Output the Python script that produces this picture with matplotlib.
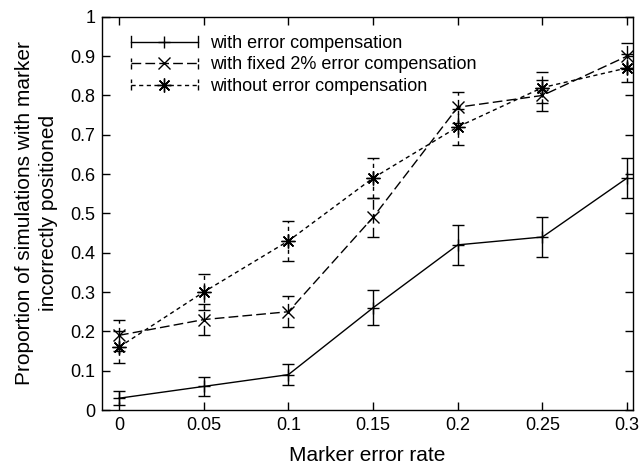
"""
Proportion of simulations with marker incorrectly positioned vs marker
error rate -- gnuplot-style line chart with error bars.
"""
import matplotlib
matplotlib.use('Agg')
import matplotlib.pyplot as plt
from matplotlib.legend_handler import HandlerLine2D
from matplotlib.lines import Line2D

plt.rcParams['font.family'] = ['Liberation Sans', 'DejaVu Sans']

# ── Data ─────────────────────────────────────────────────────────────
error_rate = [0, 0.05, 0.1, 0.15, 0.2, 0.25, 0.3]

with_comp = [0.03, 0.06, 0.09, 0.26, 0.42, 0.44, 0.59]
with_comp_err = [0.018, 0.025, 0.027, 0.045, 0.05, 0.05, 0.05]

fixed_comp = [0.19, 0.23, 0.25, 0.49, 0.77, 0.80, 0.90]
fixed_comp_err = [0.04, 0.04, 0.04, 0.05, 0.04, 0.04, 0.033]

no_comp = [0.16, 0.30, 0.43, 0.59, 0.72, 0.82, 0.87]
no_comp_err = [0.04, 0.045, 0.05, 0.05, 0.045, 0.04, 0.035]

labels = ['with error compensation',
          'with fixed 2% error compensation',
          'without error compensation']

x_ticks = [0, 0.05, 0.1, 0.15, 0.2, 0.25, 0.3]
x_tick_labels = ['0', '0.05', '0.1', '0.15', '0.2', '0.25', '0.3']
y_ticks = [0, 0.1, 0.2, 0.3, 0.4, 0.5, 0.6, 0.7, 0.8, 0.9, 1]
y_tick_labels = ['0', '0.1', '0.2', '0.3', '0.4', '0.5', '0.6', '0.7', '0.8', '0.9', '1']

ASTERISK = (8, 2, 0)
LONG_DASH = (0, (7, 3))
SHORT_DASH = (0, (3, 2.5))


class _GnuplotKey(HandlerLine2D):
    """Legend sample: line with end caps and marker in the middle."""
    def create_artists(self, legend, orig_handle, xdescent, ydescent,
                       width, height, fontsize, trans):
        artists = super().create_artists(legend, orig_handle, xdescent, ydescent,
                                         width, height, fontsize, trans)
        yc = height / 2 - ydescent
        for xe in (-xdescent, width - xdescent):
            cap = Line2D([xe, xe], [yc - 4, yc + 4], color='black',
                         linewidth=1.0, linestyle=orig_handle.get_linestyle())
            cap.set_transform(trans)
            artists.append(cap)
        return artists


fig = plt.figure(figsize=(6.42, 4.67), dpi=100, facecolor='white')
ax = fig.add_axes([0.159, 0.122, 0.827, 0.842])

series = [
    (with_comp, with_comp_err, '+', '-', 9),
    (fixed_comp, fixed_comp_err, 'x', LONG_DASH, 8),
    (no_comp, no_comp_err, ASTERISK, SHORT_DASH, 10),
]
handles = []
for (ys, errs, mk, ls, ms), lab in zip(series, labels):
    eb = ax.errorbar(error_rate, ys, yerr=errs, color='black', linewidth=1.0,
                     linestyle=ls, marker=mk, markersize=ms, markeredgewidth=1.0,
                     capsize=4, capthick=1.0, elinewidth=1.0)
    for bar in eb[2]:
        bar.set_linestyle(ls)
    handles.append(Line2D([], [], color='black', linewidth=1.0, linestyle=ls,
                          marker=mk, markersize=ms, markeredgewidth=1.0, label=lab))

ax.set_xlim(-0.01, 0.3035)
ax.set_ylim(0, 1)
ax.set_xticks(x_ticks)
ax.set_xticklabels(x_tick_labels)
ax.set_yticks(y_ticks)
ax.set_yticklabels(y_tick_labels)
ax.tick_params(direction='in', top=True, right=True, length=6, width=1,
               labelsize=13, pad=5)
for s in ax.spines.values():
    s.set_linewidth(1.0)

ax.set_xlabel('Marker error rate', fontsize=15, labelpad=9)
ax.set_ylabel('Proportion of simulations with marker\nincorrectly positioned',
              fontsize=15, labelpad=9, linespacing=1.3)

ax.legend(handles=handles, loc='upper left', frameon=False, fontsize=13,
          handlelength=3.7, handletextpad=0.7, labelspacing=0.25,
          borderaxespad=0.6, bbox_to_anchor=(0.02, 1.0),
          handler_map={Line2D: _GnuplotKey(numpoints=1)})

fig.savefig('out.png', dpi=100, facecolor='white')
plt.close(fig)
